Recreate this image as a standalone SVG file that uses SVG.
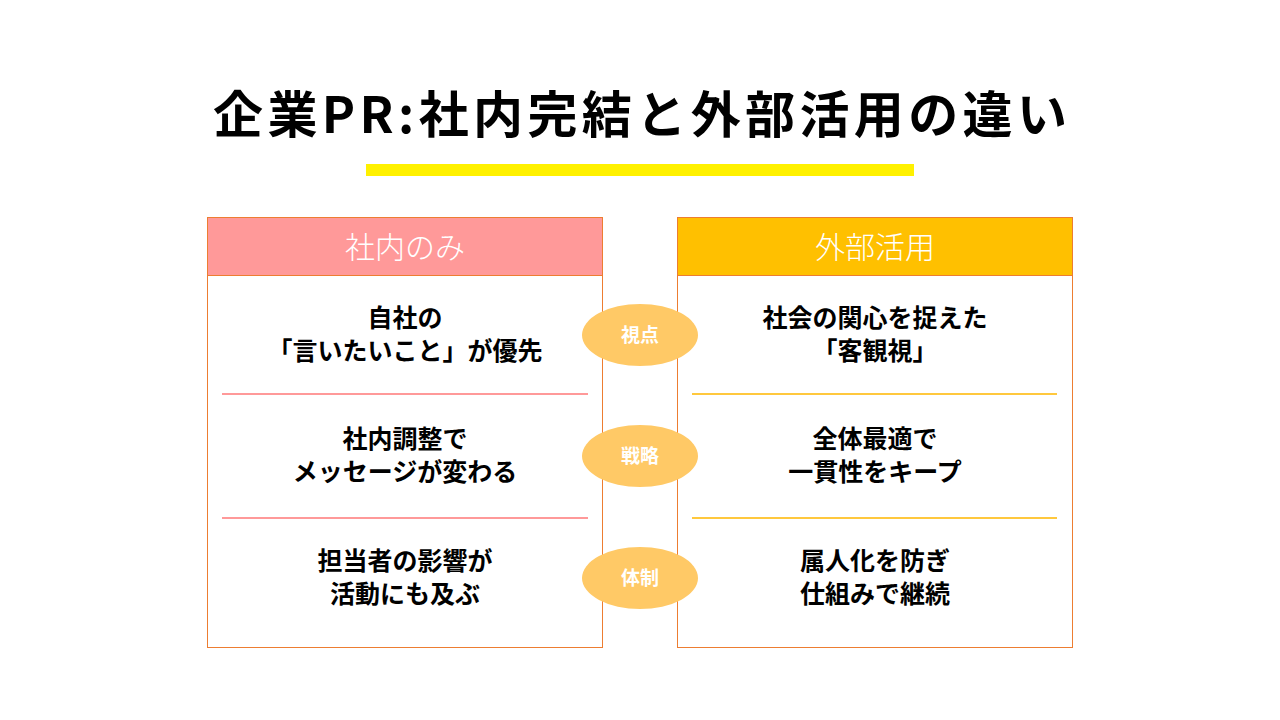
<svg xmlns="http://www.w3.org/2000/svg" width="1280" height="720" viewBox="0 0 1280 720">
<style>
.title{font-family:"Noto Sans CJK JP","Noto Sans",sans-serif;font-weight:700;font-size:50px;fill:#000}
.head{font-family:"Liberation Serif","Noto Sans CJK JP",serif;font-weight:300;font-size:30px;fill:#fff}
.body{font-family:"Noto Sans CJK JP","Noto Sans",sans-serif;font-weight:700;font-size:25px;fill:#000}
.tag{font-family:"Noto Sans CJK JP","Noto Sans",sans-serif;font-weight:700;font-size:19px;fill:#fff}
.box{fill:#fff;stroke:#ED7D31;stroke-width:1}
.sepL{stroke:#FF9999;stroke-width:2}
.sepR{stroke:#FFC83D;stroke-width:2}
.ell{fill:#FFC966}
</style>
<rect width="1280" height="720" fill="#fff"/>
<g id="title">
<text class="title" x="640" y="133" text-anchor="middle" textLength="854" lengthAdjust="spacing">企業PR:社内完結と外部活用の違い</text>
<rect x="366" y="164" width="548" height="12" fill="#FFF100"/>
</g>
<g id="left-column">
<rect class="box" x="207.5" y="217.5" width="395" height="430"/>
<rect x="207.5" y="217.5" width="395" height="58" fill="#FF9999" stroke="#ED7D31" stroke-width="1"/>
<text class="head" x="405" y="258" text-anchor="middle">社内のみ</text>
</g>
<g id="right-column">
<rect class="box" x="677.5" y="217.5" width="395" height="430"/>
<rect x="677.5" y="217.5" width="395" height="58" fill="#FFC000" stroke="#ED7D31" stroke-width="1"/>
<text class="head" x="875" y="258" text-anchor="middle">外部活用</text>
</g>
<g id="separators">
<line class="sepL" x1="222" y1="394" x2="588" y2="394"/>
<line class="sepL" x1="222" y1="518" x2="588" y2="518"/>
<line class="sepR" x1="692" y1="394" x2="1057" y2="394"/>
<line class="sepR" x1="692" y1="518" x2="1057" y2="518"/>
</g>
<g id="left-row1"><text class="body" x="405" y="327" text-anchor="middle">自社の</text><text class="body" x="405" y="360" text-anchor="middle">「言いたいこと」が優先</text></g>
<g id="left-row2"><text class="body" x="405" y="448" text-anchor="middle">社内調整で</text><text class="body" x="405" y="481" text-anchor="middle">メッセージが変わる</text></g>
<g id="left-row3"><text class="body" x="405" y="570" text-anchor="middle">担当者の影響が</text><text class="body" x="405" y="603" text-anchor="middle">活動にも及ぶ</text></g>
<g id="right-row1"><text class="body" x="875" y="327" text-anchor="middle">社会の関心を捉えた</text><text class="body" x="875" y="360" text-anchor="middle">「客観視」</text></g>
<g id="right-row2"><text class="body" x="875" y="448" text-anchor="middle">全体最適で</text><text class="body" x="875" y="481" text-anchor="middle">一貫性をキープ</text></g>
<g id="right-row3"><text class="body" x="875" y="570" text-anchor="middle">属人化を防ぎ</text><text class="body" x="875" y="603" text-anchor="middle">仕組みで継続</text></g>
<g id="tag-viewpoint"><ellipse class="ell" cx="640" cy="335" rx="58" ry="31"/><text class="tag" x="640" y="342" text-anchor="middle">視点</text></g>
<g id="tag-strategy"><ellipse class="ell" cx="640" cy="456" rx="58" ry="31"/><text class="tag" x="640" y="463" text-anchor="middle">戦略</text></g>
<g id="tag-structure"><ellipse class="ell" cx="640" cy="578" rx="58" ry="31"/><text class="tag" x="640" y="585" text-anchor="middle">体制</text></g>
</svg>
